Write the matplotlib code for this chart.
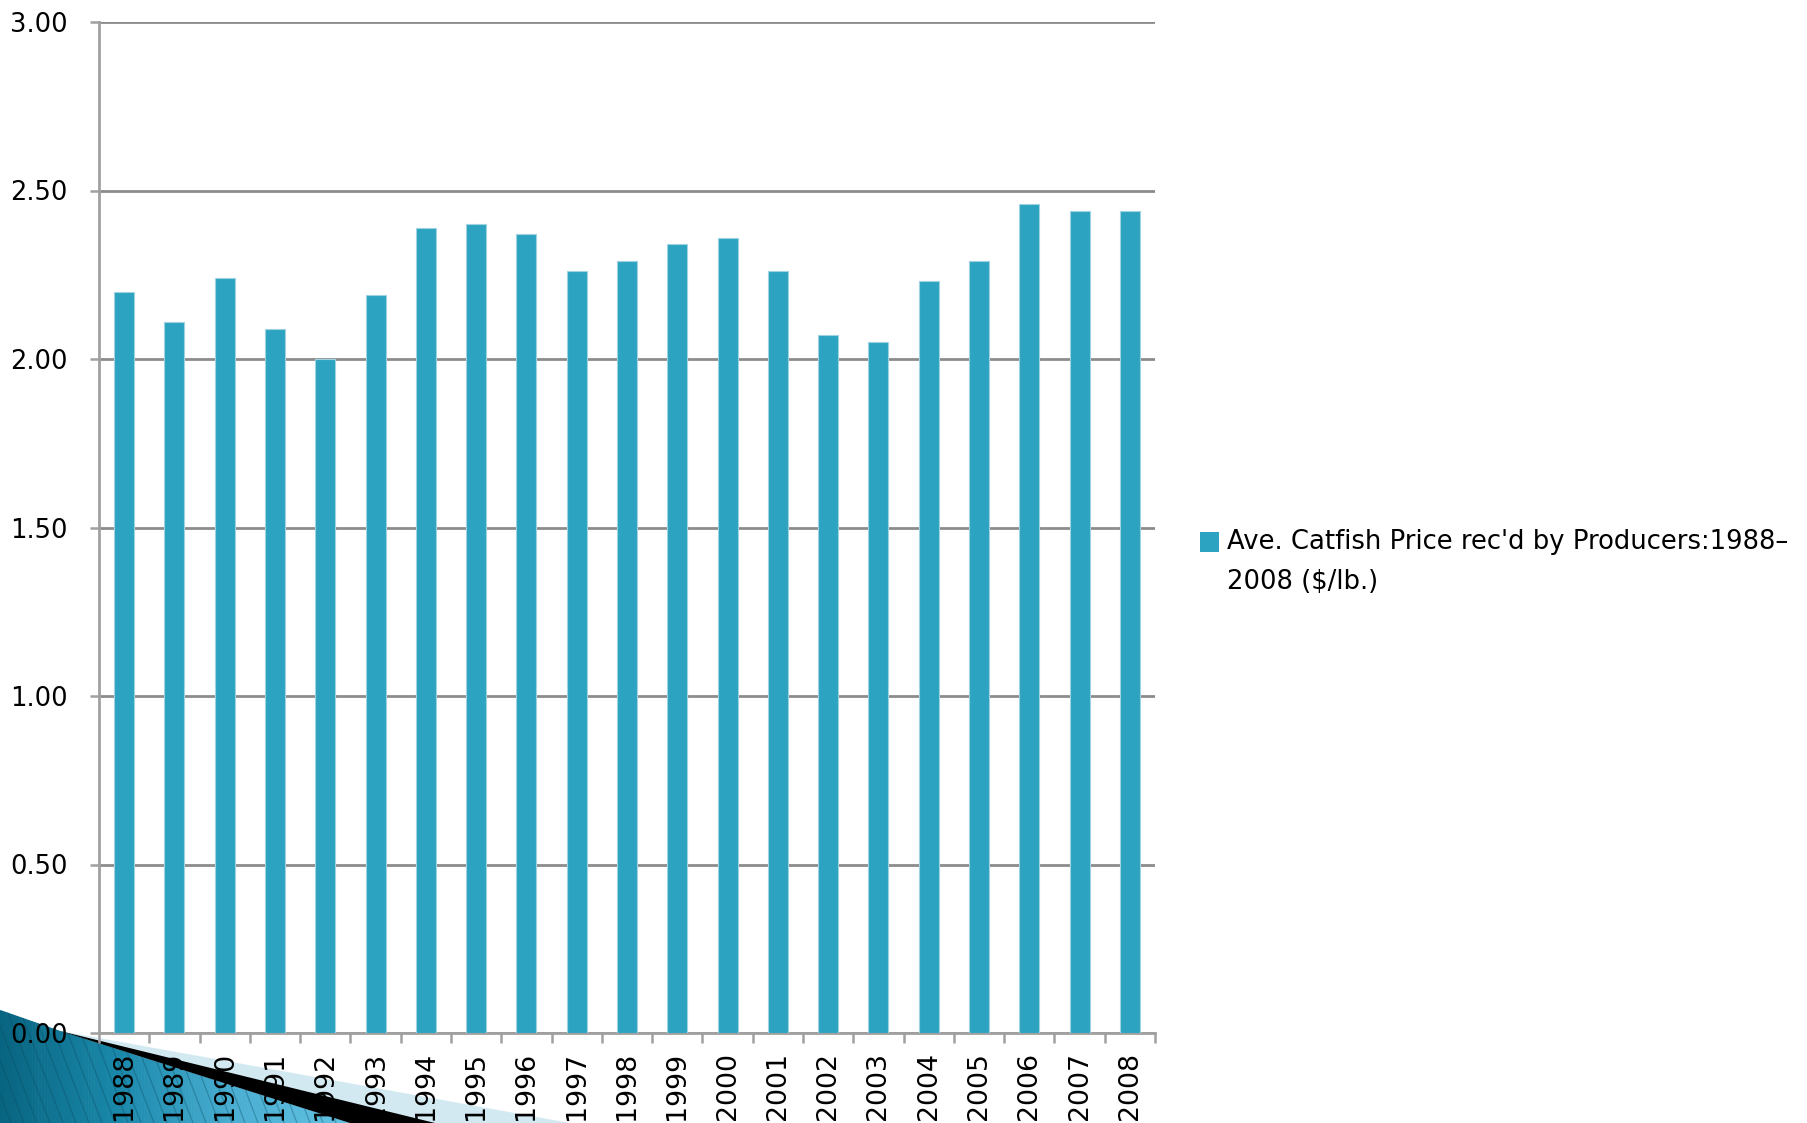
import matplotlib
matplotlib.use('Agg')
import matplotlib.pyplot as plt
from matplotlib.patches import Polygon, Rectangle
from matplotlib.collections import PolyCollection
import numpy as np

# Average catfish price received by producers, $/lb
years = [str(y) for y in range(1988, 2009)]
prices = [2.20, 2.11, 2.24, 2.09, 2.00, 2.19, 2.39, 2.40, 2.37, 2.26, 2.29,
          2.34, 2.36, 2.26, 2.07, 2.05, 2.23, 2.29, 2.46, 2.44, 2.44]
series_label = "Ave. Catfish Price rec'd by Producers:1988\u2013\n2008 ($/lb.)"

W, H = 1808, 1123
bar_color = '#2ca3c0'
grid_color = '#8c8c8c'
axis_color = '#a0a0a0'

fig = plt.figure(figsize=(W / 100, H / 100), dpi=100)
fig.patch.set_facecolor('white')

# Slide ornament in the lower left corner, drawn in pixel coordinates
deco = fig.add_axes([0, 0, 1, 1], zorder=-1)
deco.axis('off')

deco.add_patch(Polygon([(60, 1031), (570, H), (0, H)], closed=True,
                       facecolor='#d3e9f1', edgecolor='none'))


def teal_top(xv):
    # upper edge of the teal wedge
    return np.where(xv <= 60, 1010 + 21 / 60 * xv, 1031 + 92 / 290 * (xv - 60))


teal = Polygon([(0, 1010), (60, 1031), (350, H), (0, H)], closed=True,
               facecolor='none', edgecolor='none')
deco.add_patch(teal)
edges = np.linspace(0, 350, 120)
strips = []
for xa, xb in zip(edges[:-1], edges[1:]):
    strips.append([(xa, teal_top(xa)), (xb + 0.6, teal_top(xb)), (xb + 0.6, H), (xa, H)])
cmap = matplotlib.colors.LinearSegmentedColormap.from_list(
    'teal', ['#086581', '#1a88aa', '#4aaed2', '#62c2e2'])
deco.add_collection(PolyCollection(strips, facecolors=cmap(np.linspace(0, 1, len(strips))),
                                   edgecolors='none'))
for x0 in np.arange(-60, 360, 13):
    ln, = deco.plot([x0, x0 + 45], [1005, H], color='#0a4a5e', lw=0.9, alpha=0.35)
    ln.set_clip_path(teal)

deco.add_patch(Polygon([(60, 1031), (435, H), (350, H)], closed=True,
                       facecolor='black', edgecolor='none'))
deco.set_xlim(0, W)
deco.set_ylim(H, 0)

# Main bar chart
left, right = 99 / W, 1155 / W
bottom, top = 1 - 1033 / H, 1 - 22 / H
ax = fig.add_axes([left, bottom, right - left, top - bottom])
ax.set_facecolor('none')

x = np.arange(len(years))
ax.bar(x, prices, width=0.4, color=bar_color, edgecolor='#9fd3e2',
       linewidth=0.8, zorder=3)

ax.set_xlim(-0.5, len(years) - 0.5)
ax.set_ylim(0, 3.0)
ax.set_yticks(np.arange(0, 3.01, 0.5))
ax.set_yticklabels(['%.2f' % v for v in np.arange(0, 3.01, 0.5)])
ax.yaxis.grid(True, color=grid_color, linewidth=2, zorder=0)
ax.set_axisbelow(True)

ax.set_xticks(x)
ax.set_xticklabels(years, rotation=90, va='top')
ax.set_xticks(np.arange(-0.5, len(years)), minor=True)
ax.tick_params(axis='x', which='major', length=0, pad=13.5, labelsize=19.3)
ax.tick_params(axis='x', which='minor', length=7.2, width=1.8,
               color=axis_color, direction='out')
ax.tick_params(axis='y', length=6.5, width=1.8, color=axis_color,
               pad=16, labelsize=18.5)

for side in ['top', 'right']:
    ax.spines[side].set_visible(False)
for side in ['left', 'bottom']:
    ax.spines[side].set_color(axis_color)
    ax.spines[side].set_linewidth(2)

# Legend entry to the right of the plot
fig.patches.append(Rectangle((1200 / W, 1 - 552 / H), 19 / W, 20 / H,
                             transform=fig.transFigure, facecolor=bar_color,
                             edgecolor='none'))
fig.text(1227 / W, 1 - 529 / H, series_label, fontsize=18.6, va='top', ha='left',
         linespacing=1.72)

fig.savefig('out.png', dpi=100)
